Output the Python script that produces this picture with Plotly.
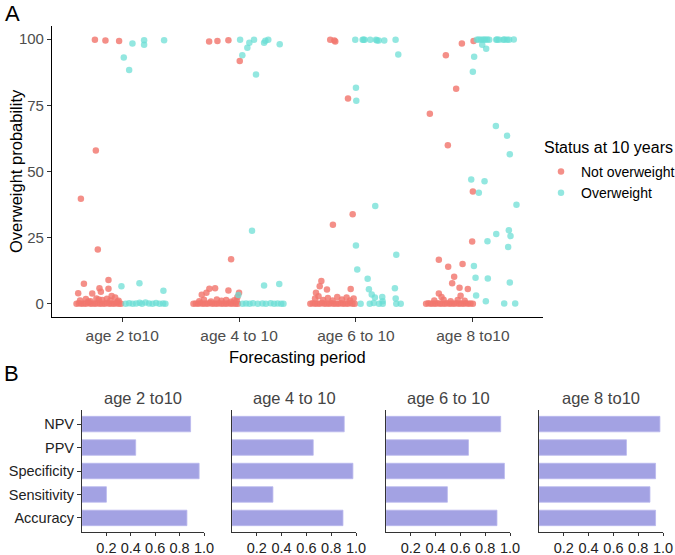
import plotly.graph_objects as go

FONT = "Liberation Sans, Arial, sans-serif"

# ---------------- Panel A data ----------------
periods = ["age 2 to10", "age 4 to 10", "age 6 to 10", "age 8 to10"]

# offsets (jitter) relative to each period's position, and probabilities
not_ow_off_1 = [-0.233, -0.143, -0.026, -0.225, -0.353, -0.208, -0.327, -0.376, -0.256, -0.194, -0.182,
                -0.117, -0.117, -0.09,
                -0.39, -0.37, -0.35, -0.33, -0.31, -0.29, -0.27, -0.25, -0.23, -0.21, -0.19, -0.17,
                -0.15, -0.13, -0.11, -0.09, -0.07, -0.05, -0.03, -0.01,
                -0.36, -0.31, -0.27, -0.22, -0.17, -0.13, -0.1, -0.06, -0.03, -0.29, -0.2, -0.04]
not_ow_y_1 = [99.8, 99.5, 99.3, 57.9, 39.7, 20.5, 7.6, 4.0, 3.9, 5.9, 4.5,
              9.0, 5.7, 2.9,
              0, 0.2, 0, 0.1, 0, 0.3, 0, 0.1, 0, 0.2, 0, 0.1,
              0, 0.3, 0, 0.1, 0, 0.2, 0, 0,
              1.2, 1.8, 1.0, 2.0, 1.4, 1.9, 1.2, 2.4, 1.1, 0.9, 1.6, 0.8]
ow_off_1 = [0.088, 0.188, 0.188, 0.359, 0.014, 0.06, -0.006, 0.148, 0.353,
            0.03, 0.06, 0.09, 0.12, 0.15, 0.17, 0.2, 0.23, 0.26, 0.29, 0.32, 0.35, 0.37]
ow_y_1 = [98.4, 99.6, 97.9, 99.6, 93.1, 88.4, 6.6, 7.8, 4.9,
          0, 0.2, 0, 0.1, 0.4, 0, 0.5, 0.1, 0, 0.3, 0, 0.1, 0]

not_ow_off_2 = [-0.256, -0.185, -0.091, 0.006, -0.068, -0.254, -0.205, -0.279, -0.319, -0.091, 0.0, -0.014,
                -0.39, -0.37, -0.35, -0.33, -0.31, -0.29, -0.27, -0.25, -0.23, -0.21, -0.19, -0.17,
                -0.15, -0.13, -0.11, -0.09, -0.07, -0.05, -0.03, -0.01,
                -0.34, -0.3, -0.24, -0.19, -0.15, -0.11, -0.07, -0.04, -0.02]
not_ow_y_2 = [99.1, 99.3, 99.6, 91.8, 16.8, 5.7, 5.9, 4.2, 3.4, 5.0, 4.2, 2.6,
              0, 0.1, 0, 0.2, 0, 0.1, 0, 0.3, 0, 0.1, 0, 0.2,
              0, 0.1, 0, 0.2, 0, 0.1, 0, 0,
              1.0, 1.5, 0.9, 1.6, 1.1, 1.4, 0.8, 1.3, 1.0]
ow_off_2 = [0.009, 0.088, 0.128, 0.214, 0.225, 0.25, 0.348, 0.071, 0.028, 0.145, 0.111, 0.214, 0.344, -0.006,
            0.03, 0.06, 0.09, 0.12, 0.16, 0.2, 0.23, 0.27, 0.3, 0.33, 0.36, 0.38]
ow_y_2 = [99.8, 98.7, 99.8, 98.7, 99.4, 99.8, 98.1, 96.8, 93.9, 86.7, 27.6, 6.9, 7.5, 3.3,
          0, 0.1, 0, 0.2, 0, 0.1, 0, 0.2, 0, 0.1, 0, 0]

not_ow_off_3 = [-0.22, -0.185, -0.177, -0.068, -0.028, -0.197, -0.296, -0.31, -0.248, -0.342, -0.045,
                -0.39, -0.37, -0.35, -0.33, -0.31, -0.29, -0.27, -0.25, -0.23, -0.21, -0.19, -0.17,
                -0.15, -0.13, -0.11, -0.09, -0.07, -0.05, -0.03, -0.01,
                -0.35, -0.32, -0.28, -0.24, -0.2, -0.16, -0.12, -0.08, -0.05, -0.02]
not_ow_y_3 = [99.8, 99.5, 99.1, 77.6, 33.8, 29.9, 8.6, 6.6, 5.4, 4.2, 5.6,
              0, 0.2, 0, 0.1, 0, 0.3, 0, 0.1, 0, 0.2, 0, 0.1,
              0, 0.2, 0, 0.1, 0, 0.3, 0, 0,
              2.0, 2.8, 1.4, 2.2, 1.2, 2.6, 1.6, 2.4, 1.2, 2.0]
ow_off_3 = [-0.006, 0.057, 0.065, 0.074, 0.122, 0.171, 0.18, 0.194, 0.242, 0.339,
            0.362, 0.0, 0.003, 0.165, 0.0, 0.345, 0.011, 0.1, 0.111, 0.135, 0.162, 0.225, 0.333, 0.228, 0.34,
            0.04, 0.118, 0.152, 0.197, 0.229, 0.345, 0.383]
ow_y_3 = [99.8, 99.8, 99.8, 99.8, 99.8, 99.8, 99.5, 99.5, 99.5, 99.8,
          94.2, 81.7, 76.7, 37.0, 22.0, 18.5, 13.0, 9.5, 5.5, 3.5, 2.4, 2.6, 5.9, 1.0, 2.0,
          0, 0, 0.3, 0, 0, 0, 0]

not_ow_off_4 = [-0.094, 0.006, -0.231, -0.143, -0.368, -0.214, 0.0, -0.006, -0.291, -0.211, -0.088,
                -0.16, -0.177, -0.114, -0.043, -0.291, -0.105, -0.268,
                -0.4, -0.38, -0.36, -0.34, -0.32, -0.3, -0.28, -0.26, -0.24, -0.22, -0.2, -0.18,
                -0.16, -0.14, -0.12, -0.1, -0.08, -0.06, -0.04, -0.02, 0.0,
                -0.33, -0.25, -0.19, -0.13, -0.07]
not_ow_y_4 = [98.4, 99.3, 93.9, 81.3, 71.8, 59.9, 42.4, 23.5, 16.6, 14.0, 15.0,
              10.2, 7.8, 6.1, 5.6, 3.9, 3.0, 2.6,
              0, 0.2, 0, 0.1, 0, 0.2, 0, 0.1, 0, 0.2, 0, 0.1,
              0, 0.2, 0, 0.1, 0, 0.2, 0, 0.1, 0,
              1.2, 1.5, 1.0, 1.4, 1.1]
ow_off_4 = [0.034, 0.051, 0.07, 0.09, 0.105, 0.122, 0.14, 0.2, 0.208, 0.225, 0.26, 0.271, 0.293, 0.31, 0.35,
            0.08, 0.114, 0.011, 0.0, 0.197, 0.293, 0.316, -0.014, 0.1, 0.051, 0.373, 0.308, 0.322, 0.2,
            0.125, 0.302, 0.009, 0.023, 0.128, 0.316, 0.028, 0.111, 0.268, 0.362]
ow_y_4 = [99.8, 99.9, 99.8, 99.9, 99.8, 99.9, 99.8, 99.8, 99.9, 99.8, 99.8, 99.9, 99.8, 99.8, 99.9,
          97.9, 96.4, 93.4, 87.7, 67.2, 63.5, 56.5, 47.0, 46.3, 42.0, 37.4, 27.8, 25.6, 26.4,
          23.6, 21.5, 14.3, 9.8, 9.6, 8.0, 3.1, 1.0, 0.1, 0.1]

not_ow_offsets = [not_ow_off_1, not_ow_off_2, not_ow_off_3, not_ow_off_4]
not_ow_values = [not_ow_y_1, not_ow_y_2, not_ow_y_3, not_ow_y_4]
ow_offsets = [ow_off_1, ow_off_2, ow_off_3, ow_off_4]
ow_values = [ow_y_1, ow_y_2, ow_y_3, ow_y_4]

# ---------------- Panel B data ----------------
metrics = ["Accuracy", "Sensitivity", "Specificity", "PPV", "NPV"]
perf_age2 = [0.86, 0.20, 0.96, 0.44, 0.89]
perf_age4 = [0.895, 0.33, 0.975, 0.655, 0.905]
perf_age6 = [0.895, 0.495, 0.955, 0.665, 0.925]
perf_age8 = [0.94, 0.895, 0.94, 0.705, 0.975]
perf = [perf_age2, perf_age4, perf_age6, perf_age8]

RED = "rgba(242,118,110,0.82)"
CYAN = "rgba(105,222,212,0.72)"
BAR = "#a3a2e3"

W, H = 675, 555


def px(x):
    return x / W


def py(y):
    return 1 - y / H


fig = go.Figure()

# Panel A traces
for i in range(4):
    xs = [i + 1 + o for o in not_ow_offsets[i]]
    fig.add_trace(go.Scatter(x=xs, y=not_ow_values[i], mode="markers",
                             marker=dict(color=RED, size=6.5, line=dict(width=0)),
                             name="Not overweight", legendgroup="n", showlegend=(i == 0),
                             xaxis="x", yaxis="y"))
for i in range(4):
    xs = [i + 1 + o for o in ow_offsets[i]]
    fig.add_trace(go.Scatter(x=xs, y=ow_values[i], mode="markers",
                             marker=dict(color=CYAN, size=6.5, line=dict(width=0)),
                             name="Overweight", legendgroup="o", showlegend=(i == 0),
                             xaxis="x", yaxis="y"))

# Panel B traces
b_domains = [(82, 204), (232, 356), (386, 510), (539, 663)]
for i in range(4):
    k = i + 2
    fig.add_trace(go.Bar(x=perf[i], y=metrics, orientation="h", width=0.66,
                         marker=dict(color=BAR, line=dict(width=0.8, color="#b9b8ee")),
                         showlegend=False, xaxis=f"x{k}", yaxis=f"y{k}"))

tickfont_a = dict(family=FONT, size=15.5, color="#4d4d4d")
layout = dict(
    width=W, height=H, margin=dict(l=0, r=0, t=0, b=0, autoexpand=False),
    paper_bgcolor="white", plot_bgcolor="white",
    font=dict(family=FONT, color="#000"),
    xaxis=dict(domain=[px(52), px(543)], range=[0.4, 4.6], anchor="y",
               tickvals=[1, 2, 3, 4], ticktext=periods, showgrid=False, zeroline=False,
               showline=True, linecolor="#000", linewidth=1.1, ticks="outside", ticklen=4,
               tickcolor="#333", tickfont=tickfont_a, tickangle=0),
    yaxis=dict(domain=[py(317), py(26)], range=[-5, 105], anchor="x",
               tickvals=[0, 25, 50, 75, 100], showgrid=False, zeroline=False,
               showline=True, linecolor="#000", linewidth=1.1, ticks="outside", ticklen=4,
               tickcolor="#333", tickfont=dict(family=FONT, size=15, color="#4d4d4d")),
    legend=dict(x=px(541), y=py(156), xanchor="left", yanchor="top",
                font=dict(family=FONT, size=14, color="#000"), bgcolor="rgba(0,0,0,0)",
                itemwidth=30, tracegroupgap=0),
)

for i, (a, b) in enumerate(b_domains):
    k = i + 2
    layout[f"xaxis{k}"] = dict(domain=[px(a), px(b)], range=[0, 1.0], anchor=f"y{k}",
                               tickvals=[0.2, 0.4, 0.6, 0.8, 1.0], ticktext=["0.2", "0.4", "0.6", "0.8", "1.0"],
                               showgrid=False, zeroline=False, showline=True, linecolor="#333",
                               linewidth=1.1, ticks="outside", ticklen=3, tickcolor="#333",
                               tickangle=0, automargin=False, ticklabelstandoff=0,
                               tickfont=dict(family=FONT, size=14.5, color="#222"))
    layout[f"yaxis{k}"] = dict(domain=[py(532), py(410)], range=[-0.6, 4.6], anchor=f"x{k}",
                               type="category", categoryorder="array", categoryarray=metrics,
                               showgrid=False, zeroline=False, showline=True, linecolor="#333",
                               linewidth=1.1, ticks="outside" if i == 0 else "", ticklen=4,
                               tickcolor="#333", showticklabels=(i == 0),
                               tickfont=dict(family=FONT, size=14.5, color="#222"))

fig.update_layout(**layout)

annotations = [
    dict(text="A", x=px(3), y=py(14), xref="paper", yref="paper", xanchor="left", yanchor="middle",
         showarrow=False, font=dict(family=FONT, size=22, color="#000")),
    dict(text="B", x=px(2), y=py(373), xref="paper", yref="paper", xanchor="left", yanchor="middle",
         showarrow=False, font=dict(family=FONT, size=22, color="#000")),
    dict(text="Overweight probability", x=px(16), y=py(171), xref="paper", yref="paper",
         xanchor="center", yanchor="middle", textangle=-90, showarrow=False,
         font=dict(family=FONT, size=16.5, color="#000")),
    dict(text="Forecasting period", x=px(297), y=py(357), xref="paper", yref="paper",
         xanchor="center", yanchor="middle", showarrow=False,
         font=dict(family=FONT, size=16.5, color="#000")),
    dict(text="Status at 10 years", x=px(542), y=py(148), xref="paper", yref="paper",
         xanchor="left", yanchor="middle", showarrow=False,
         font=dict(family=FONT, size=16, color="#000")),
]
for i, (a, b) in enumerate(b_domains):
    annotations.append(dict(text=periods[i], x=px((a + b) / 2), y=py(398), xref="paper", yref="paper",
                            xanchor="center", yanchor="middle", showarrow=False,
                            font=dict(family=FONT, size=16.5, color="#444")))
fig.update_layout(annotations=annotations)

fig.write_html("out.html")
